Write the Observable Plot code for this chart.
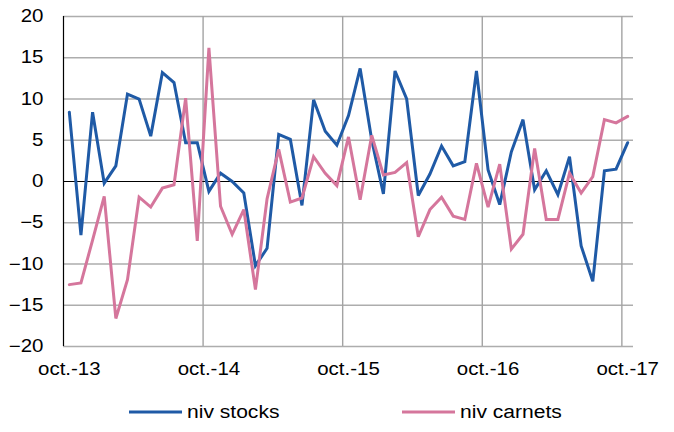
<!DOCTYPE html>
<html>
<head>
<meta charset="utf-8">
<script src="https://cdn.jsdelivr.net/npm/d3@7"></script>
<script src="https://cdn.jsdelivr.net/npm/@observablehq/plot@0.6"></script>
<style>
  html, body { margin: 0; padding: 0; background: #fff; }
  #wrap { position: relative; width: 674px; height: 432px; font-family: "Liberation Sans", Arial, sans-serif; }
  #legend { position: absolute; left: 0; top: 392px; width: 674px; height: 40px; font-size: 18px; color: #000; }
  .item { position: absolute; top: 20px; transform: translateY(-50%); display: flex; align-items: center; white-space: nowrap; }
  .swatch { display: inline-block; width: 53px; height: 3px; margin-right: 5px; }
  .txt { display: inline-block; transform: scaleX(1.17); transform-origin: left center; }
</style>
</head>
<body>
<div id="wrap">
  <div id="chart"></div>
  <div id="legend"></div>
</div>
<script>
// Monthly series, oct-13 .. oct-17 (49 months)
const months = d3.utcMonth.range(new Date(Date.UTC(2013, 9, 1)), new Date(Date.UTC(2017, 10, 1)));
const stocks = [8.4, -6.5, 8.4, -0.2, 1.9, 10.6, 10.0, 5.5, 13.2, 12.0, 4.7, 4.7,
                -1.2, 1.0, 0.0, -1.4, -10.2, -8.1, 5.7, 5.1, -2.9, 9.9, 6.1, 4.4,
                8.0, 13.7, 5.0, -1.5, 13.4, 10.0, -1.7, 0.9, 4.3, 1.9, 2.4, 13.4,
                1.4, -2.8, 3.6, 7.5, -1.0, 1.3, -1.6, 3.0, -7.8, -12.1, 1.3, 1.5, 4.7];
const carnets = [-12.5, -12.3, -7.1, -1.8, -16.6, -11.9, -1.9, -3.1, -0.8, -0.4, 10.1, -7.2,
                 16.2, -3.0, -6.4, -3.4, -13.1, -2.1, 3.9, -2.5, -2.0, 3.0, 1.0, -0.5,
                 5.4, -2.2, 5.6, 0.8, 1.1, 2.3, -6.7, -3.4, -1.9, -4.2, -4.6, 2.2,
                 -3.1, 2.1, -8.2, -6.4, 4.0, -4.6, -4.6, 1.0, -1.4, 0.6, 7.5, 7.1, 7.9];
const seriesNames = ["niv stocks", "niv carnets"];
const seriesColors = ["#1f5aa6", "#d5769c"];
const yTicks = [-20, -15, -10, -5, 0, 5, 10, 15, 20];
const monthAbbr = ["janv.", "févr.", "mars", "avr.", "mai", "juin", "juil.", "août", "sept.", "oct.", "nov.", "déc."];

const label = d => monthAbbr[d.getUTCMonth()] + "-" + String(d.getUTCFullYear()).slice(2);
const rows = [];
months.forEach((m, i) => {
  rows.push({i, v: stocks[i], s: seriesNames[0]});
  rows.push({i, v: carnets[i], s: seriesNames[1]});
});
const tickIdx = months.map((m, i) => i).filter(i => months[i].getUTCMonth() === 9);
const gridIdx = tickIdx.filter(i => i > 0).map(i => i - 0.5);

const chart = Plot.plot({
  width: 674,
  height: 392,
  marginTop: 16,
  marginLeft: 63,
  marginRight: 41,
  marginBottom: 46,
  style: {fontFamily: "'Liberation Sans', Arial, sans-serif", fontSize: "17.5px", color: "#000", background: "#fff"},
  x: {type: "linear", domain: [-0.5, months.length - 0.5], axis: null},
  y: {domain: [-20, 20], axis: null},
  color: {domain: seriesNames, range: seriesColors},
  marks: [
    Plot.ruleY(yTicks.filter(t => t !== 0), {stroke: "#adadad", strokeWidth: 1.5}),
    Plot.ruleX(gridIdx, {y1: -20, y2: 20, stroke: "#a3a3a3", strokeWidth: 1.4}),
    Plot.ruleY([0], {stroke: "#000", strokeWidth: 1.2}),
    Plot.ruleX([-0.5], {y1: -20, y2: 20, stroke: "#000", strokeWidth: 1.2}),
    Plot.axisY({ticks: yTicks, tickSize: 0, tickPadding: 20, anchor: "left", label: null, fontSize: 17.5}),
    Plot.axisX({ticks: tickIdx, tickSize: 0, tickPadding: 16, anchor: "bottom", label: null, fontSize: 17.5,
                tickFormat: i => label(months[i])}),
    Plot.line(rows, {x: "i", y: "v", z: "s", stroke: "s", strokeWidth: 3, strokeLinejoin: "miter", strokeMiterlimit: 3})
  ]
});
// horizontally widen tick labels as in the reference rendering
chart.querySelectorAll("g[aria-label$='tick label'] text").forEach(t => {
  const tr = t.getAttribute("transform") || "";
  t.setAttribute("transform", tr + " scale(1.17,1)");
});
document.getElementById("chart").appendChild(chart);

const legend = document.getElementById("legend");
const legendX = [129, 402];
seriesNames.forEach((name, k) => {
  const item = document.createElement("div");
  item.className = "item";
  item.style.left = legendX[k] + "px";
  const sw = document.createElement("span");
  sw.className = "swatch";
  sw.style.background = seriesColors[k];
  const tx = document.createElement("span");
  tx.className = "txt";
  tx.textContent = name;
  item.appendChild(sw);
  item.appendChild(tx);
  legend.appendChild(item);
});
</script>
</body>
</html>
